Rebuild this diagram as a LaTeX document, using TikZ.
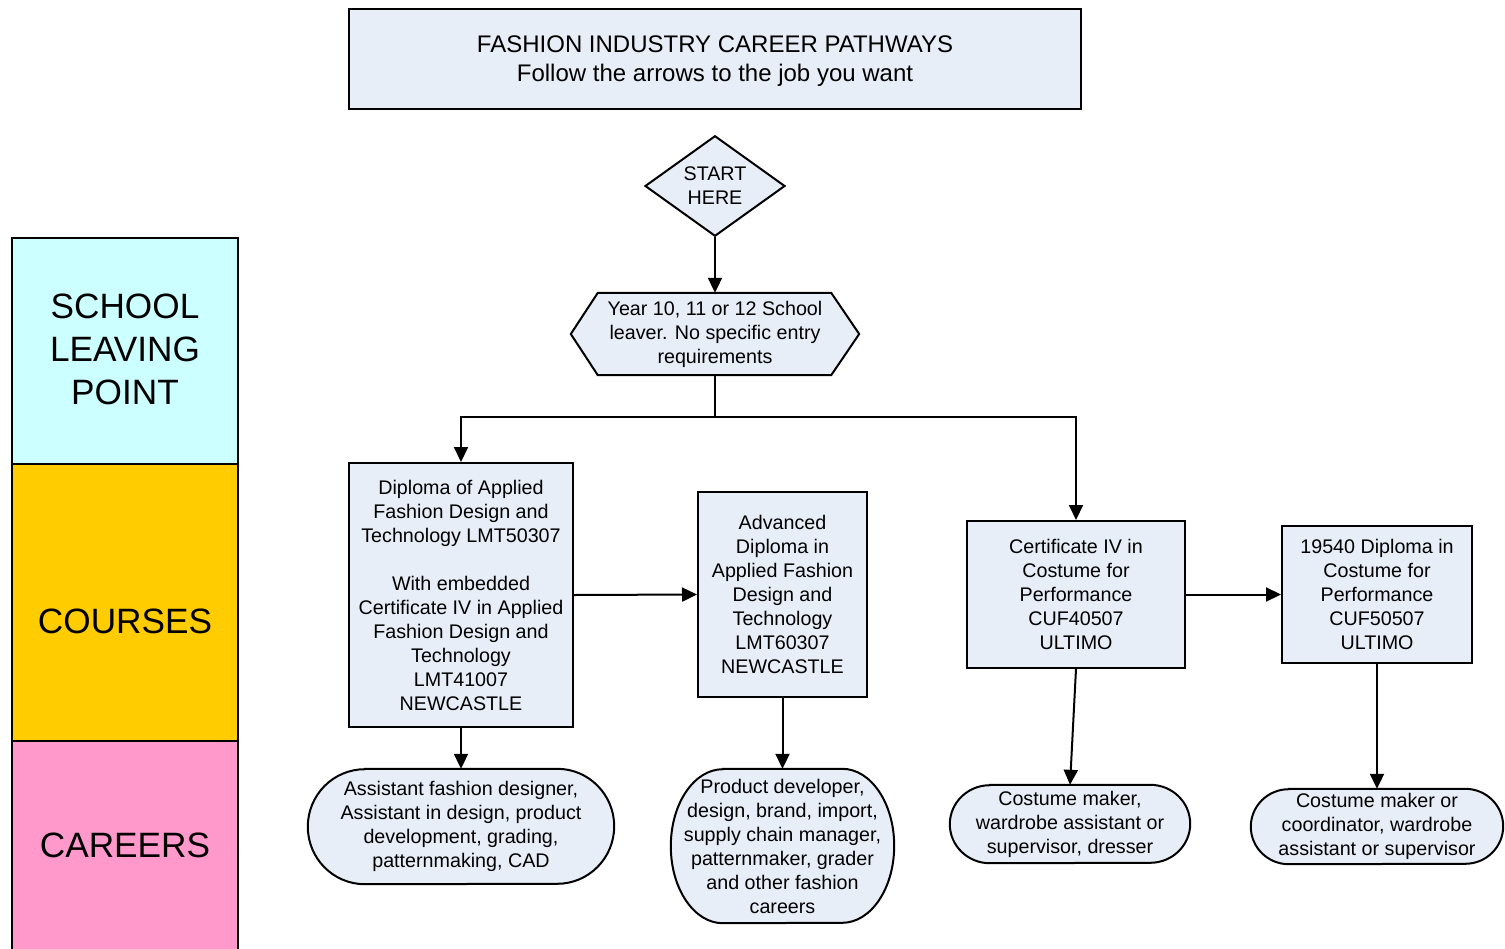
\documentclass[tikz,border=0pt]{standalone}
\usepackage{fontspec}
\setmainfont{Liberation Sans}
\usetikzlibrary{arrows.meta,shapes.geometric,backgrounds}
\definecolor{boxfill}{RGB}{232,238,248}
\definecolor{lvcyan}{RGB}{204,255,255}
\definecolor{lvyellow}{RGB}{255,204,0}
\definecolor{lvpink}{RGB}{255,153,204}
\begin{document}
\begin{tikzpicture}[x=1pt,y=-1pt,
  every node/.style={font=\fontsize{19.7}{24}\selectfont, align=center, inner sep=0pt},
  box/.style={draw, fill=boxfill, line width=2pt},
  outline/.style={draw, fill=boxfill, line width=2pt},
  lane/.style={draw, line width=2pt},
  lanetext/.style={font=\fontsize{35.2}{43}\selectfont},
  arr/.style={line width=2pt, -{Triangle[length=15pt,width=14pt]}},
  plain/.style={line width=2pt}]
\useasboundingbox (0,0) rectangle (1505,948);

% left lanes
\draw[lane, fill=lvcyan] (12,238) rectangle (238,464);
\draw[lane, fill=lvyellow] (12,464) rectangle (238,741);
\draw[lane, fill=lvpink] (12,741) rectangle (238,960);
\node[lanetext] (lslp) at (125,349) {SCHOOL\\LEAVING\\POINT};
\node[lanetext] (lcou) at (125,621) {COURSES};
\node[lanetext] (lcar) at (125,845) {CAREERS};

% title
\node[box, minimum width=732, minimum height=100] (title) at (715,59) {};
\node[font=\fontsize{24}{29.5}\selectfont] (titletext) at (715,61)
  {FASHION INDUSTRY CAREER PATHWAYS\\Follow the arrows to the job you want};

% start
\node[diamond, draw, fill=boxfill, line width=2pt, minimum width=140, minimum height=96] (start) at (715,186) {START\\HERE};

% hexagon
\node[minimum width=288, minimum height=82] (hex) at (715,334) {Year 10, 11 or 12 School\\leaver. No specific entry\\requirements};

% courses
\node[box, minimum width=224, minimum height=264] (d1) at (461,595)
  {Diploma of Applied\\Fashion Design and\\Technology LMT50307\\[24pt]With embedded\\Certificate IV in Applied\\Fashion Design and\\Technology\\LMT41007\\NEWCASTLE};
\node[box, minimum width=169, minimum height=205] (d2) at (782.5,594.5)
  {Advanced\\Diploma in\\Applied Fashion\\Design and\\Technology\\LMT60307\\NEWCASTLE};
\node[box, minimum width=218, minimum height=147] (cert) at (1076,594.5)
  {Certificate IV in\\Costume for\\Performance\\CUF40507\\ULTIMO};
\node[box, minimum width=190, minimum height=137] (dipc) at (1377,594.5)
  {19540 Diploma in\\Costume for\\Performance\\CUF50507\\ULTIMO};

% careers
\node[minimum width=306, minimum height=115] (c1) at (461,826.5)
  {Assistant fashion designer,\\Assistant in design, product\\development, grading,\\patternmaking, CAD};
\node[minimum width=223, minimum height=154] (c2) at (782.5,846)
  {Product developer,\\design, brand, import,\\supply chain manager,\\patternmaker, grader\\and other fashion\\careers};
\node[minimum width=240, minimum height=78] (c3) at (1070,824)
  {Costume maker,\\wardrobe assistant or\\supervisor, dresser};
\node[minimum width=252, minimum height=75] (c4) at (1377,826.5)
  {Costume maker or\\coordinator, wardrobe\\assistant or supervisor};

\begin{scope}[on background layer]
  \draw[outline] (hex.west) -- ([xshift=27pt]hex.north west) -- ([xshift=-28pt]hex.north east)
     -- (hex.east) -- ([xshift=-28pt]hex.south east) -- ([xshift=27pt]hex.south west) -- cycle;
  \draw[outline] ([xshift=57pt]c1.north west) -- ([xshift=-57pt]c1.north east)
     arc[start angle=90, end angle=-90, x radius=57pt, y radius=57.5pt]
     -- ([xshift=57pt]c1.south west)
     arc[start angle=270, end angle=90, x radius=57pt, y radius=57.5pt] -- cycle;
  \draw[outline] ([xshift=52pt]c2.north west) -- ([xshift=-52pt]c2.north east)
     arc[start angle=90, end angle=-90, x radius=52pt, y radius=77pt]
     -- ([xshift=52pt]c2.south west)
     arc[start angle=270, end angle=90, x radius=52pt, y radius=77pt] -- cycle;
  \draw[outline] ([xshift=40pt]c3.north west) -- ([xshift=-40pt]c3.north east)
     arc[start angle=90, end angle=-90, x radius=40pt, y radius=39pt]
     -- ([xshift=40pt]c3.south west)
     arc[start angle=270, end angle=90, x radius=40pt, y radius=39pt] -- cycle;
  \draw[outline] ([xshift=38pt]c4.north west) -- ([xshift=-38pt]c4.north east)
     arc[start angle=90, end angle=-90, x radius=38pt, y radius=37.5pt]
     -- ([xshift=38pt]c4.south west)
     arc[start angle=270, end angle=90, x radius=38pt, y radius=37.5pt] -- cycle;
\end{scope}

% connectors
\coordinate (j) at (715,417);
\draw[arr] (start.south) -- (hex.north);
\draw[plain] (hex.south) -- (j);
\draw[arr] (j) -| (d1.north);
\draw[arr] (j) -| (cert.north);
\draw[arr] (d1.east) -- (d2.west);
\draw[arr] (cert.east) -- (dipc.west);
\draw[arr] (d1.south) -- (c1.north);
\draw[arr] (d2.south) -- (c2.north);
\draw[arr] (cert.south) -- (c3.north);
\draw[arr] (dipc.south) -- (c4.north);
\end{tikzpicture}
\end{document}
